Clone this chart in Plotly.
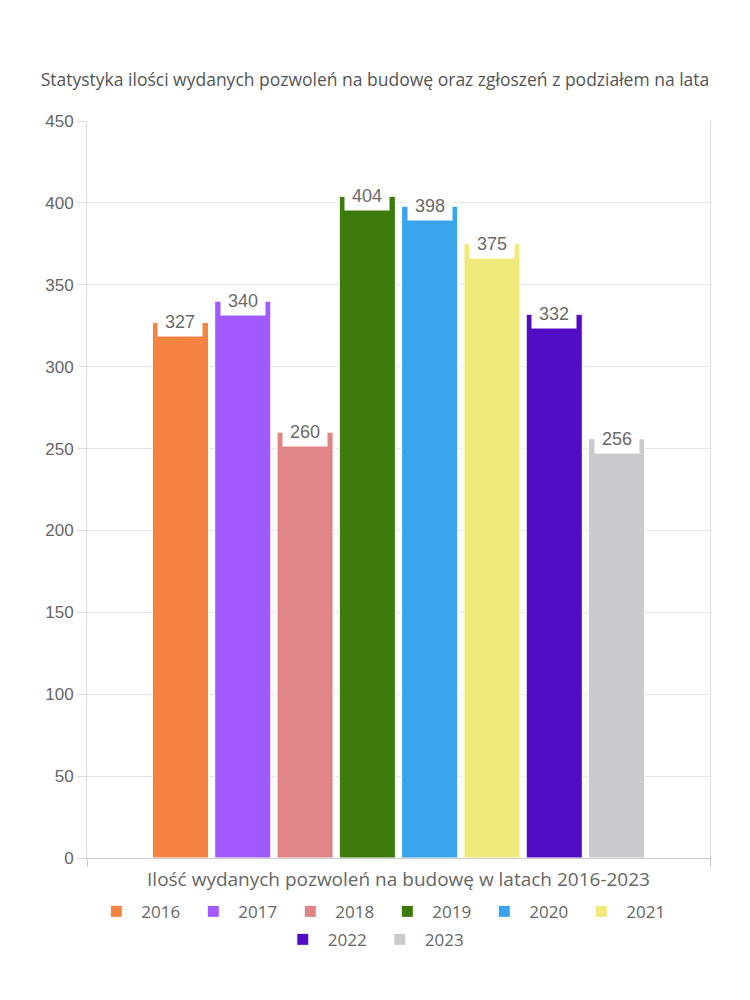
import plotly.graph_objects as go

years = ["2016", "2017", "2018", "2019", "2020", "2021", "2022", "2023"]
values = [327, 340, 260, 404, 398, 375, 332, 256]
colors = ["#F58442", "#A05AFF", "#E08585", "#3D7A0C", "#38A4EC", "#F0EA7D", "#520CC4", "#CACACE"]
category = ["Ilość wydanych pozwoleń na budowę w latach 2016-2023"]
title_text = "Statystyka ilości wydanych pozwoleń na budowę oraz zgłoszeń z podziałem na lata"
y_ticks = [0, 50, 100, 150, 200, 250, 300, 350, 400, 450]

FONT = "Open Sans"
bargap = 0.2
bargroupgap = 0.1

fig = go.Figure()
for i, (yr, v, c) in enumerate(zip(years, values, colors)):
    fig.add_trace(go.Bar(
        x=category, y=[v], name=yr,
        marker=dict(color=c, line=dict(color="white", width=1)),
        legend="legend" if i < 6 else "legend2",
        hoverinfo="y+name",
    ))

# data labels in white boxes at the top of each bar
n = len(values)
group_w = 1 - bargap
slot = group_w / n
for i, v in enumerate(values):
    xc = -group_w / 2 + (i + 0.5) * slot
    fig.add_annotation(
        x=xc, y=v, xref="x", yref="y", text=str(v), showarrow=False,
        yanchor="middle", bgcolor="white", borderpad=4, width=36,
        font=dict(family="Liberation Sans, Arial", size=18, color="#6a6a6a"),
    )

legend_common = dict(
    orientation="h", xanchor="center", yanchor="middle",
    font=dict(family=FONT, size=17, color="#666666"),
    bgcolor="rgba(0,0,0,0)", entrywidth=42, itemwidth=40,
)

fig.update_layout(
    width=750, height=1000,
    paper_bgcolor="white", plot_bgcolor="white",
    margin=dict(l=87, r=40, t=121, b=142),
    barmode="group", bargap=bargap, bargroupgap=bargroupgap,
    title=dict(text=title_text, x=0.5, xanchor="center", y=0.92, yanchor="middle",
               yref="container", font=dict(family=FONT, size=17.5, color="#555555")),
    legend=dict(x=0.474, y=-0.073, **legend_common),
    legend2=dict(x=0.462, y=-0.111, **legend_common),
    showlegend=True,
    xaxis=dict(
        type="category", showticklabels=False, showline=True, linecolor="#cccccc",
        ticks="outside", tickson="boundaries", ticklen=8, tickcolor="#cccccc",
        showgrid=False, zeroline=False,
        title=dict(text=category[0], standoff=14, font=dict(family=FONT, size=19, color="#666666")),
    ),
    yaxis=dict(
        range=[0, 450], tickvals=y_ticks, showline=True, mirror=True, linecolor="#dddddd",
        ticks="outside", ticklen=9, tickcolor="#dddddd",
        gridcolor="#e6e6e6", zeroline=False,
        tickfont=dict(family="Liberation Sans, Arial", size=17, color="#666666"),
    ),
)

fig.write_html("out.html")
